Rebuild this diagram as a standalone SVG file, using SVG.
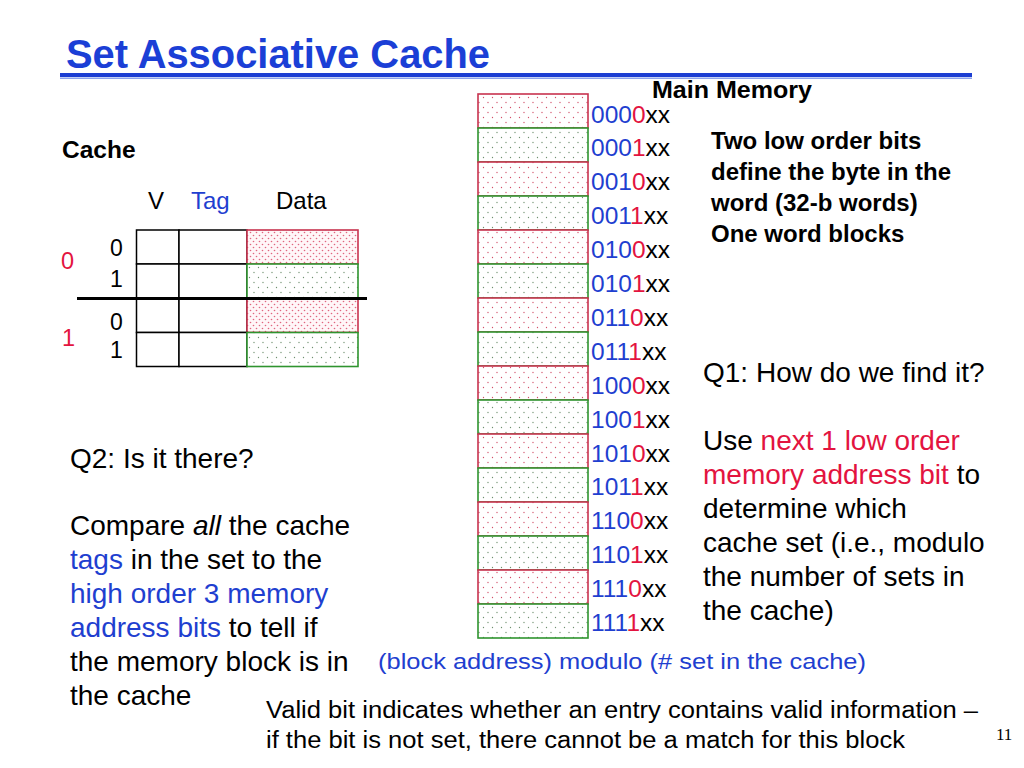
<svg xmlns="http://www.w3.org/2000/svg" width="1024" height="768" viewBox="0 0 1024 768">
<style>
text{font-family:"Liberation Sans",Arial,sans-serif;fill:#000}
.b{font-weight:bold}
.blue{fill:#1f3fd0}
.red{fill:#e3143f}
.addr{font-size:24.5px}
.big{font-size:28px}
.cell{fill:#fff;stroke:#000;stroke-width:1.5}
.mr{fill:url(#pr);stroke:#c8334f;stroke-width:1.6}
.mg{fill:url(#pg);stroke:#2f942f;stroke-width:1.6}
.cr{fill:url(#pcr);stroke:#c8334f;stroke-width:1.6}
.cg{fill:url(#pg);stroke:#2f942f;stroke-width:1.6}
</style>
<defs>
<pattern id="pr" width="9" height="10" patternUnits="userSpaceOnUse">
<rect width="9" height="10" fill="#fff"/>
<circle cx="2" cy="2.5" r="0.65" fill="#d2506a"/>
<circle cx="6.5" cy="7.5" r="0.65" fill="#d2506a"/>
</pattern>
<pattern id="pg" width="9" height="10" patternUnits="userSpaceOnUse">
<rect width="9" height="10" fill="#fff"/>
<circle cx="2" cy="2.5" r="0.65" fill="#6f8f6f"/>
<circle cx="6.5" cy="7.5" r="0.65" fill="#6f8f6f"/>
</pattern>
<pattern id="pcr" width="6" height="6" patternUnits="userSpaceOnUse">
<rect width="6" height="6" fill="#fff6f8"/>
<circle cx="1.5" cy="1.5" r="0.8" fill="#e0667f"/>
<circle cx="4.5" cy="4.5" r="0.8" fill="#e0667f"/>
</pattern>
</defs>

<g id="title">
<text x="66" y="68" class="b" font-size="40" textLength="424" lengthAdjust="spacingAndGlyphs" style="fill:#1b3fd6">Set Associative Cache</text>
<line x1="60" y1="75" x2="972" y2="75" stroke="#1c3ed2" stroke-width="4"/>
<line x1="60" y1="78.3" x2="972" y2="78.3" stroke="#8ea3ec" stroke-width="1.4"/>
</g>

<g id="cache">
<text x="62" y="158" class="b" font-size="24.5">Cache</text>
<text x="148" y="209" font-size="24">V</text>
<text x="191" y="209" font-size="24" class="blue">Tag</text>
<text x="276" y="209" font-size="24">Data</text>
<g id="set0">
<text x="61" y="269" font-size="23.5" class="red">0</text>
<text x="110" y="256" font-size="23">0</text>
<text x="110" y="287" font-size="23">1</text>
<rect class="cell" x="136.5" y="230" width="42.5" height="34"/>
<rect class="cell" x="179" y="230" width="68" height="34"/>
<rect class="cr" x="247" y="230" width="111" height="34"/>
<rect class="cell" x="136.5" y="264" width="42.5" height="34"/>
<rect class="cell" x="179" y="264" width="68" height="34"/>
<rect class="cg" x="247" y="264" width="111" height="34"/>
</g>
<g id="set1">
<text x="62" y="346" font-size="23.5" class="red">1</text>
<text x="110" y="330" font-size="23">0</text>
<text x="110" y="358" font-size="23">1</text>
<rect class="cell" x="136.5" y="298.5" width="42.5" height="34"/>
<rect class="cell" x="179" y="298.5" width="68" height="34"/>
<rect class="cr" x="247" y="298.5" width="111" height="34"/>
<rect class="cell" x="136.5" y="332.5" width="42.5" height="34"/>
<rect class="cell" x="179" y="332.5" width="68" height="34"/>
<rect class="cg" x="247" y="332.5" width="111" height="34"/>
</g>
<line x1="77" y1="298.5" x2="367" y2="298.5" stroke="#000" stroke-width="3"/>
</g>

<g id="memory">
<text x="652" y="98" class="b" font-size="23" textLength="160" lengthAdjust="spacingAndGlyphs">Main Memory</text>
<g id="m0"><rect class="mr" x="478" y="94" width="110" height="34"/><text class="addr" x="591" y="122.5"><tspan class="blue">000</tspan><tspan class="red">0</tspan>xx</text></g>
<g id="m1"><rect class="mg" x="478" y="128" width="110" height="34"/><text class="addr" x="591" y="156.4"><tspan class="blue">000</tspan><tspan class="red">1</tspan>xx</text></g>
<g id="m2"><rect class="mr" x="478" y="162" width="110" height="34"/><text class="addr" x="591" y="190.3"><tspan class="blue">001</tspan><tspan class="red">0</tspan>xx</text></g>
<g id="m3"><rect class="mg" x="478" y="196" width="110" height="34"/><text class="addr" x="591" y="224.2"><tspan class="blue">001</tspan><tspan class="red">1</tspan>xx</text></g>
<g id="m4"><rect class="mr" x="478" y="230" width="110" height="34"/><text class="addr" x="591" y="258.1"><tspan class="blue">010</tspan><tspan class="red">0</tspan>xx</text></g>
<g id="m5"><rect class="mg" x="478" y="264" width="110" height="34"/><text class="addr" x="591" y="292"><tspan class="blue">010</tspan><tspan class="red">1</tspan>xx</text></g>
<g id="m6"><rect class="mr" x="478" y="298" width="110" height="34"/><text class="addr" x="591" y="325.9"><tspan class="blue">011</tspan><tspan class="red">0</tspan>xx</text></g>
<g id="m7"><rect class="mg" x="478" y="332" width="110" height="34"/><text class="addr" x="591" y="359.8"><tspan class="blue">011</tspan><tspan class="red">1</tspan>xx</text></g>
<g id="m8"><rect class="mr" x="478" y="366" width="110" height="34"/><text class="addr" x="591" y="393.7"><tspan class="blue">100</tspan><tspan class="red">0</tspan>xx</text></g>
<g id="m9"><rect class="mg" x="478" y="400" width="110" height="34"/><text class="addr" x="591" y="427.6"><tspan class="blue">100</tspan><tspan class="red">1</tspan>xx</text></g>
<g id="m10"><rect class="mr" x="478" y="434" width="110" height="34"/><text class="addr" x="591" y="461.5"><tspan class="blue">101</tspan><tspan class="red">0</tspan>xx</text></g>
<g id="m11"><rect class="mg" x="478" y="468" width="110" height="34"/><text class="addr" x="591" y="495.4"><tspan class="blue">101</tspan><tspan class="red">1</tspan>xx</text></g>
<g id="m12"><rect class="mr" x="478" y="502" width="110" height="34"/><text class="addr" x="591" y="529.3"><tspan class="blue">110</tspan><tspan class="red">0</tspan>xx</text></g>
<g id="m13"><rect class="mg" x="478" y="536" width="110" height="34"/><text class="addr" x="591" y="563.2"><tspan class="blue">110</tspan><tspan class="red">1</tspan>xx</text></g>
<g id="m14"><rect class="mr" x="478" y="570" width="110" height="34"/><text class="addr" x="591" y="597.1"><tspan class="blue">111</tspan><tspan class="red">0</tspan>xx</text></g>
<g id="m15"><rect class="mg" x="478" y="604" width="110" height="34"/><text class="addr" x="591" y="631"><tspan class="blue">111</tspan><tspan class="red">1</tspan>xx</text></g>
</g>

<g id="connectors"></g>

<g id="note-bits">
<text x="711" y="149" class="b" font-size="24">Two low order bits</text>
<text x="711" y="180" class="b" font-size="24">define the byte in the</text>
<text x="711" y="211" class="b" font-size="24">word (32-b words)</text>
<text x="711" y="242" class="b" font-size="24">One word blocks</text>
</g>

<g id="note-q1">
<text x="703" y="382" class="big">Q1: How do we find it?</text>
<text x="703" y="450" class="big">Use <tspan class="red">next 1 low order</tspan></text>
<text x="703" y="484" class="big"><tspan class="red">memory address bit</tspan> to</text>
<text x="703" y="518" class="big">determine which</text>
<text x="703" y="552" class="big">cache set (i.e., modulo</text>
<text x="703" y="586" class="big">the number of sets in</text>
<text x="703" y="620" class="big">the cache)</text>
</g>

<g id="note-q2">
<text x="70" y="468" class="big">Q2: Is it there?</text>
<text x="70" y="535" class="big">Compare <tspan font-style="italic">all</tspan> the cache</text>
<text x="70" y="569" class="big"><tspan class="blue">tags</tspan> in the set to the</text>
<text x="70" y="603" class="big"><tspan class="blue">high order 3 memory</tspan></text>
<text x="70" y="637" class="big"><tspan class="blue">address bits</tspan> to tell if</text>
<text x="70" y="671" class="big">the memory block is in</text>
<text x="70" y="705" class="big">the cache</text>
</g>

<g id="note-modulo">
<text x="378" y="669" font-size="22" class="blue" textLength="488" lengthAdjust="spacingAndGlyphs">(block address) modulo (# set in the cache)</text>
</g>

<g id="note-valid">
<text x="266" y="718" font-size="23" textLength="712" lengthAdjust="spacingAndGlyphs">Valid bit indicates whether an entry contains valid information –</text>
<text x="266" y="748" font-size="23" textLength="639" lengthAdjust="spacingAndGlyphs">if the bit is not set, there cannot be a match for this block</text>
</g>

<text x="996" y="740" font-size="17" style="font-family:'Liberation Serif',serif">11</text>
</svg>
